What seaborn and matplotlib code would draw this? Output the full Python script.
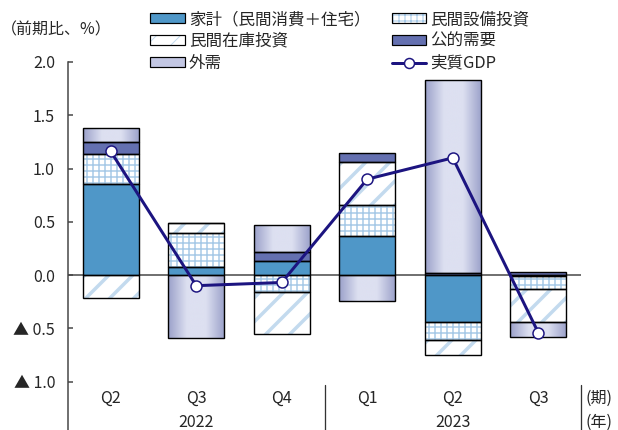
import numpy as np
import matplotlib
matplotlib.use("Agg")
import matplotlib.pyplot as plt
import seaborn as sns
from matplotlib.patches import Patch
from matplotlib.lines import Line2D
from matplotlib.legend_handler import HandlerTuple
from matplotlib.colors import LinearSegmentedColormap

# ---------------- data ----------------
periods = ["2022Q2", "2022Q3", "2022Q4", "2023Q1", "2023Q2", "2023Q3"]
quarter_labels = ["Q2", "Q3", "Q4", "Q1", "Q2", "Q3"]
year_labels = ["2022", "2023"]
household = [0.85, 0.08, 0.13, 0.37, -0.44, -0.01]   # 家計（民間消費＋住宅）
capex = [0.29, 0.31, -0.16, 0.29, -0.17, -0.12]      # 民間設備投資
inventory = [-0.22, 0.10, -0.39, 0.40, -0.14, -0.31]  # 民間在庫投資
public = [0.11, 0.00, 0.09, 0.09, 0.02, 0.03]         # 公的需要
external = [0.13, -0.59, 0.25, -0.24, 1.81, -0.14]    # 外需
gdp = [1.16, -0.10, -0.07, 0.90, 1.10, -0.54]         # 実質GDP
ytick_values = [2.0, 1.5, 1.0, 0.5, 0.0, -0.5, -1.0]
ytick_labels = ["2.0", "1.5", "1.0", "0.5", "0.0", "▲ 0.5", "▲ 1.0"]
series_names = ["家計（民間消費＋住宅）", "民間設備投資", "民間在庫投資", "公的需要", "外需", "実質GDP"]

# ---------------- style ----------------
sns.set_theme(style="white")
plt.rcParams['font.family'] = ['Noto Sans CJK JP', 'DejaVu Sans']
plt.rcParams['axes.unicode_minus'] = False

C_HOUSE = "#4f97c8"
C_GRID = "#a6c9e7"
C_DIAG = "#c3daee"
C_PUBLIC = "#6470b0"
C_EXT = "#c3c7e3"
C_GDP = "#1c1480"
AX_COL = "#444444"
BAR_W = 0.66
FS = 16

DPI = 72
fig = plt.figure(figsize=(618 / DPI, 430 / DPI), dpi=DPI)
ax = fig.add_axes([68 / 618, 0, 513 / 618, 368 / 430])

# stacking bottoms
comp_vals = [household, capex, inventory, public, external]
pos = np.zeros(len(periods))
neg = np.zeros(len(periods))
bottoms = []
for vals in comp_vals:
    v = np.array(vals, dtype=float)
    bottoms.append(np.where(v >= 0, pos, neg))
    pos = pos + np.where(v >= 0, v, 0)
    neg = neg + np.where(v < 0, v, 0)


def fill_layer(vals, bottom, color, edge, hatch=None, hatch_lw=1.0):
    plt.rcParams['hatch.linewidth'] = hatch_lw
    n0 = len(ax.patches)
    sns.barplot(x=periods, y=vals, order=periods, bottom=bottom, width=BAR_W,
                color=color, saturation=1, errorbar=None, linewidth=0,
                edgecolor=edge, hatch=hatch, ax=ax, zorder=2)
    new = ax.patches[n0:]
    for p in new:
        if hasattr(p, "set_hatch_linewidth"):
            p.set_hatch_linewidth(hatch_lw)
    return new


fill_layer(household, bottoms[0], C_HOUSE, C_HOUSE)
fill_layer(capex, bottoms[1], "white", C_GRID, hatch="++", hatch_lw=1.5)
fill_layer(inventory, bottoms[2], "white", C_DIAG, hatch="/", hatch_lw=3.5)
fill_layer(public, bottoms[3], C_PUBLIC, C_PUBLIC)
ext_patches = fill_layer(external, bottoms[4], C_EXT, C_EXT)

# gradient for 外需
cmap = LinearSegmentedColormap.from_list("ext", ["#9aa0c9", "#dde0f1", "#dde0f1", "#9aa0c9"])
grad = np.linspace(0, 1, 256).reshape(1, -1)
for p in ext_patches:
    x0, w = p.get_x(), p.get_width()
    y0, h = p.get_y(), p.get_height()
    ax.imshow(grad, cmap=cmap, extent=[x0, x0 + w, min(y0, y0 + h), max(y0, y0 + h)],
              aspect="auto", zorder=2.1, interpolation="bicubic")

# outlines
for vals, bottom in zip(comp_vals, bottoms):
    sns.barplot(x=periods, y=vals, order=periods, bottom=bottom, width=BAR_W,
                fill=False, color="black", linewidth=1.4, errorbar=None, ax=ax, zorder=3)

# zero line
ax.axhline(0, color=AX_COL, lw=1.5, zorder=1.5)

# GDP line
sns.lineplot(x=np.arange(len(periods)), y=gdp, color=C_GDP, lw=3, marker="o",
             markersize=11, markerfacecolor="white", markeredgecolor=C_GDP,
             markeredgewidth=1.5, ax=ax, zorder=5)

ax.set_xlim(-0.5, len(periods) - 0.5)
ax.set_ylim(-1.455, 2.0)
ax.set_xlabel("")
ax.set_ylabel("")

for s in ["top", "right", "bottom"]:
    ax.spines[s].set_visible(False)
ax.spines["left"].set_color(AX_COL)
ax.spines["left"].set_linewidth(1.5)

ax.set_yticks(ytick_values)
ax.set_yticklabels(ytick_labels, fontsize=FS)
ax.tick_params(axis="y", direction="in", length=5, width=1.5, color=AX_COL, pad=13,
               left=True)
ax.set_xticks([])

# category labels
for i, q in enumerate(quarter_labels):
    ax.text(i, -1.155, q, ha="center", va="center", fontsize=FS)
ax.text(1, -1.385, year_labels[0], ha="center", va="center", fontsize=FS)
ax.text(4, -1.385, year_labels[1], ha="center", va="center", fontsize=FS)
ax.text(5.55, -1.155, "(期)", ha="left", va="center", fontsize=FS, clip_on=False)
ax.text(5.55, -1.385, "(年)", ha="left", va="center", fontsize=FS, clip_on=False)
for xd in [2.5, 5.5]:
    ax.plot([xd, xd], [-1.03, -1.455], color="#333333", lw=1.3, clip_on=False)

fig.text(1 / 618, 1 - 30 / 430, "（前期比、%）", ha="left", va="center", fontsize=FS)

# legend
h_house = Patch(facecolor=C_HOUSE, edgecolor="black", lw=1.2)
h_capex = (Patch(facecolor="white", edgecolor=C_GRID, hatch="++", lw=0),
           Patch(facecolor="none", edgecolor="black", lw=1.2))
h_inv = (Patch(facecolor="white", edgecolor=C_DIAG, hatch="/", lw=0),
         Patch(facecolor="none", edgecolor="black", lw=1.2))
h_pub = Patch(facecolor=C_PUBLIC, edgecolor="black", lw=1.2)
h_ext = Patch(facecolor=C_EXT, edgecolor="black", lw=1.2)
h_gdp = Line2D([], [], color=C_GDP, lw=3, marker="o", markersize=10,
               markerfacecolor="white", markeredgecolor=C_GDP, markeredgewidth=1.5)
handles = [h_house, h_inv, h_ext, h_capex, h_pub, h_gdp]
labels = [series_names[0], series_names[2], series_names[4],
          series_names[1], series_names[3], series_names[5]]
fig.legend(handles, labels, loc="upper left", bbox_to_anchor=(150 / 618, 1 - 11 / 430),
           ncol=2, frameon=False, fontsize=16.5, handlelength=2.1, handleheight=0.5,
           handletextpad=0.25, columnspacing=1.3, labelspacing=0.3, borderpad=0,
           borderaxespad=0, handler_map={tuple: HandlerTuple(ndivide=1, pad=0)})

fig.savefig("out.png", dpi=DPI)
